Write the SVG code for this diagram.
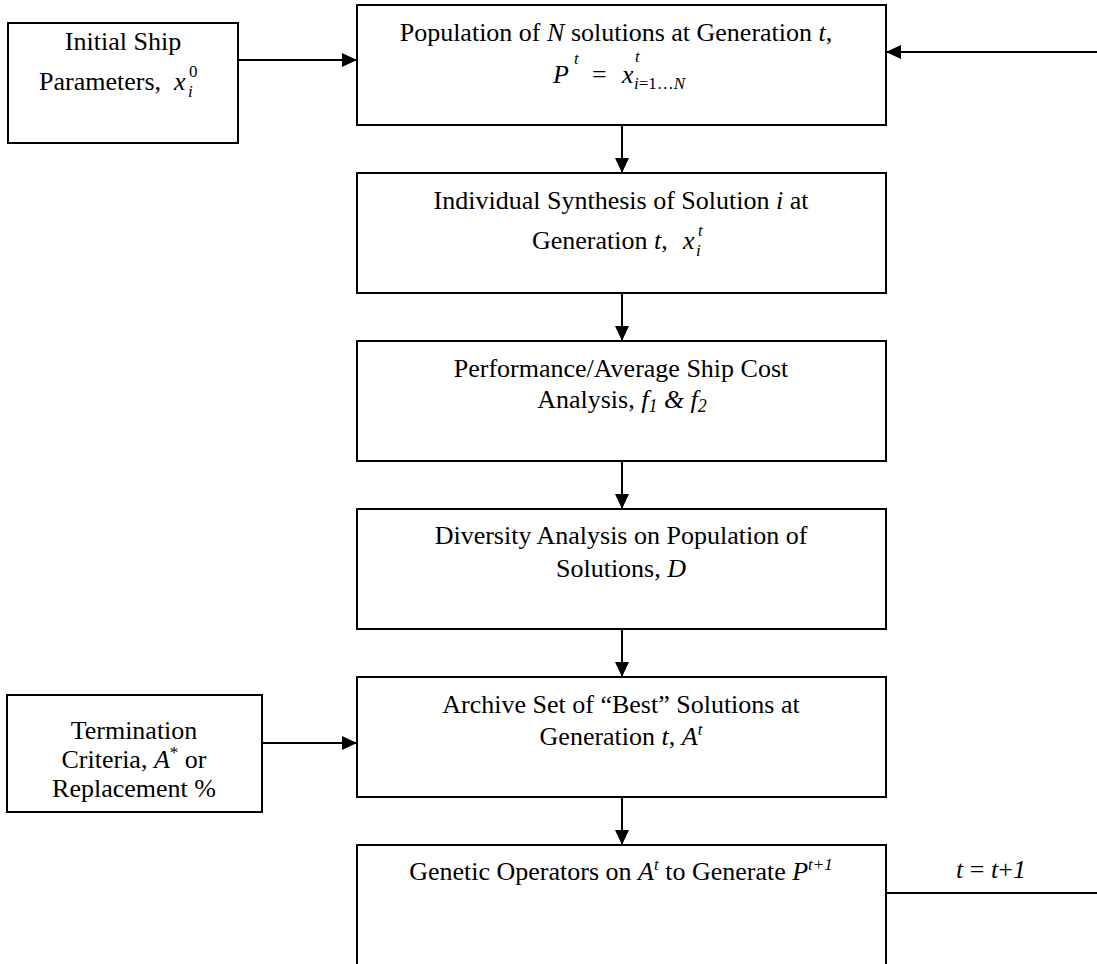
<svg xmlns="http://www.w3.org/2000/svg" width="1097" height="964" viewBox="0 0 1097 964">
<style>
.box{fill:#fff;stroke:#000;stroke-width:2}
.t{font-family:"Liberation Serif","Times New Roman",serif;font-size:26px;fill:#000}
.m{text-anchor:middle}
.i{font-style:italic}
.s{font-size:17px}
.c{stroke:#000;stroke-width:2;fill:none}
</style>
<defs>
<marker id="arr" markerUnits="userSpaceOnUse" markerWidth="15" markerHeight="14" refX="15" refY="7" orient="auto">
<path d="M0,0 L15,7 L0,14 z" fill="#000"/>
</marker>
</defs>
<rect width="1097" height="964" fill="#fff"/>
<g id="connectors">
<line class="c" x1="238" y1="60" x2="357" y2="60" marker-end="url(#arr)"/>
<line class="c" x1="1097" y1="52" x2="886" y2="52" marker-end="url(#arr)"/>
<line class="c" x1="622" y1="125" x2="622" y2="173" marker-end="url(#arr)"/>
<line class="c" x1="622" y1="293" x2="622" y2="341" marker-end="url(#arr)"/>
<line class="c" x1="622" y1="461" x2="622" y2="509" marker-end="url(#arr)"/>
<line class="c" x1="622" y1="629" x2="622" y2="677" marker-end="url(#arr)"/>
<line class="c" x1="622" y1="797" x2="622" y2="845" marker-end="url(#arr)"/>
<line class="c" x1="262" y1="743" x2="357" y2="743" marker-end="url(#arr)"/>
<line class="c" x1="886" y1="893" x2="1097" y2="893"/>
<text class="t m" x="991" y="878"><tspan class="i">t</tspan> = <tspan class="i">t</tspan>+<tspan class="i">1</tspan></text>
</g>
<g id="initial">
<rect class="box" x="8" y="23" width="230" height="120"/>
<text class="t m" x="123" y="50">Initial Ship</text>
<text class="t" x="39" y="90">Parameters,</text>
<text class="t i" x="174" y="90" font-size="27">x</text>
<text class="t s" x="189" y="77">0</text>
<text class="t s i" x="188" y="97">i</text>
</g>
<g id="population">
<rect class="box" x="357" y="5" width="529" height="120"/>
<text class="t m" x="616" y="41">Population of <tspan class="i">N</tspan> solutions at Generation <tspan class="i">t</tspan>,</text>
<text class="t i" x="553" y="83" font-size="28">P</text>
<text class="t s i" x="574" y="64">t</text>
<text class="t" x="592" y="83">=</text>
<text class="t i" x="622" y="83" font-size="27">x</text>
<text class="t s i" x="635" y="62">t</text>
<text class="t s" x="634" y="89"><tspan class="i">i</tspan>=1…<tspan class="i">N</tspan></text>
</g>
<g id="individual">
<rect class="box" x="357" y="173" width="529" height="120"/>
<text class="t m" x="621" y="209">Individual Synthesis of Solution <tspan class="i">i</tspan> at</text>
<text class="t" x="532" y="249">Generation <tspan class="i">t</tspan>,</text>
<text class="t i" x="683" y="249" font-size="27">x</text>
<text class="t s i" x="698" y="236">t</text>
<text class="t s i" x="696" y="256">i</text>
</g>
<g id="performance">
<rect class="box" x="357" y="341" width="529" height="120"/>
<text class="t m" x="621" y="377">Performance/Average Ship Cost</text>
<text class="t m" x="622" y="408">Analysis, <tspan class="i">f</tspan><tspan class="i" font-size="18" dy="4">1</tspan><tspan class="i" dy="-4"> &amp; f</tspan><tspan class="i" font-size="18" dy="4">2</tspan></text>
</g>
<g id="diversity">
<rect class="box" x="357" y="509" width="529" height="120"/>
<text class="t m" x="621" y="544">Diversity Analysis on Population of</text>
<text class="t m" x="621" y="577">Solutions, <tspan class="i">D</tspan></text>
</g>
<g id="archive">
<rect class="box" x="357" y="677" width="529" height="120"/>
<text class="t m" x="621" y="713">Archive Set of “Best” Solutions at</text>
<text class="t m" x="621" y="745">Generation <tspan class="i">t</tspan>, <tspan class="i">A</tspan><tspan class="i" font-size="17" dy="-10">t</tspan></text>
</g>
<g id="termination">
<rect class="box" x="7" y="695" width="255" height="117"/>
<text class="t m" x="134" y="739">Termination</text>
<text class="t m" x="134" y="768">Criteria, <tspan class="i">A</tspan><tspan font-size="17" dy="-10">*</tspan><tspan dy="10"> or</tspan></text>
<text class="t m" x="134" y="797">Replacement %</text>
</g>
<g id="genetic">
<rect class="box" x="357" y="845" width="529" height="140"/>
<text class="t m" x="621" y="880">Genetic Operators on <tspan class="i">A</tspan><tspan class="i" font-size="17" dy="-10">t</tspan><tspan dy="10"> to Generate </tspan><tspan class="i">P</tspan><tspan class="i" font-size="17" dy="-10">t+1</tspan></text>
</g>
</svg>
